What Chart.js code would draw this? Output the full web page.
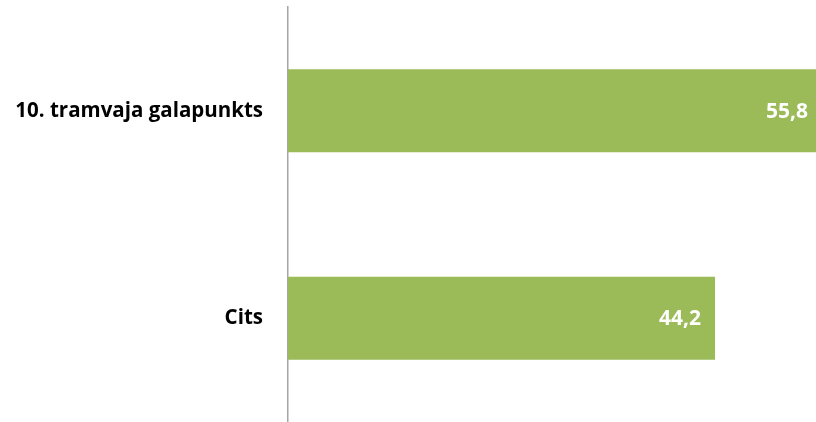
<!DOCTYPE html>
<html lang="lv">
<head>
<meta charset="UTF-8">
<title>Galapunkts</title>
<script src="https://cdn.jsdelivr.net/npm/chart.js"></script>
<style>
    html, body { margin: 0; padding: 0; background: #fff; }
    .wrap { width: 816px; height: 422px; position: relative; }
</style>
</head>
<body>
<div class="wrap">
    <canvas id="grafiks"></canvas>
</div>

<script>
    var kategorijas = ['10. tramvaja galapunkts', 'Cits'];
    var vertibas = [55.8, 44.2];
    var asMax = 54.65;

    // vertibu uzraksti joslu gala (balti)
    const uzraksti = {
        id: 'uzraksti',
        afterDatasetsDraw(chart) {
            const ctx = chart.ctx;
            const area = chart.chartArea;
            const meta = chart.getDatasetMeta(0);
            ctx.save();
            ctx.fillStyle = '#ffffff';
            ctx.font = 'bold 21px "Open Sans"';
            ctx.textAlign = 'right';
            ctx.textBaseline = 'middle';
            meta.data.forEach(function (bar, i) {
                var x = Math.min(bar.x - 14, area.right - 8);
                ctx.fillText(vertibas[i].toFixed(1).replace('.', ','), x, bar.y + 1);
            });
            ctx.restore();
        }
    };

    new Chart(document.getElementById('grafiks'), {
        type: 'bar',
        data: {
            labels: kategorijas,
            datasets: [{
                data: vertibas,
                backgroundColor: '#9BBB59',
                borderWidth: 0,
                barPercentage: 0.4,
                categoryPercentage: 1
            }]
        },
        options: {
            indexAxis: 'y',
            responsive: true,
            maintainAspectRatio: false,
            animation: false,
            layout: { padding: { top: 7, right: 0, bottom: 0, left: 0 } },
            plugins: {
                legend: { display: false },
                tooltip: { enabled: false }
            },
            scales: {
                x: {
                    display: false,
                    min: 0,
                    max: asMax
                },
                y: {
                    afterFit: function (s) {
                        s.width = 288;
                        s.paddingTop = 0;
                        s.paddingBottom = 0;
                    },
                    grid: { display: false, drawTicks: true, tickLength: 25 },
                    border: { display: true, color: '#A6A6A6', width: 1.5 },
                    ticks: {
                        color: '#000000',
                        padding: 0,
                        font: { family: 'Open Sans', size: 20.5, weight: 'bold' }
                    }
                }
            }
        },
        plugins: [uzraksti]
    });
</script>
</body>
</html>
